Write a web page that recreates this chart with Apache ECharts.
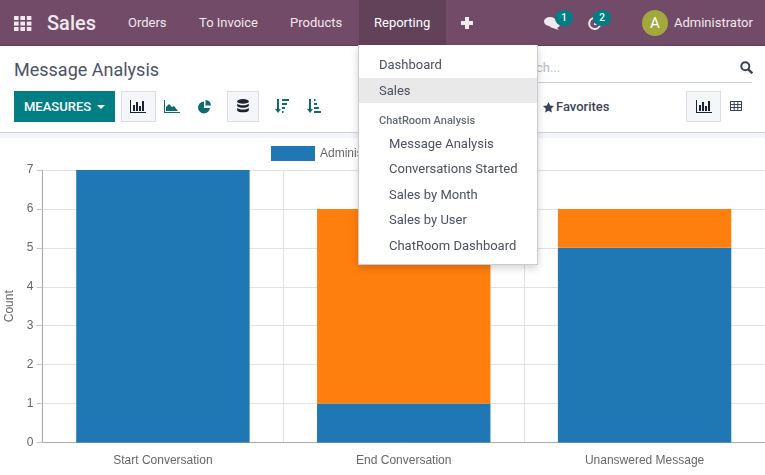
<!DOCTYPE html>
<html>
<head>
<meta charset="utf-8">
<script src="https://cdn.jsdelivr.net/npm/echarts@6/dist/echarts.min.js"></script>
<style>
  html, body { margin: 0; padding: 0; background: #fff; }
  body { width: 765px; height: 475px; overflow: hidden; position: relative; font-family: Roboto, sans-serif; color: #4c4c4c; }
  .abs { position: absolute; white-space: nowrap; }
  .navbar { position: absolute; left: 0; top: 0; width: 765px; height: 45px; background: #714b67; border-bottom: 1px solid #5d3f55; }
  .nav-text { color: #f1e9ee; font-size: 13px; top: 15px; line-height: 16px; }
  .active-tab { position: absolute; left: 359px; top: 0; width: 87px; height: 45px; background: #624259; }
  .badge { position: absolute; width: 18px; height: 16px; border-radius: 8px; background: #017e84; color: #fff; font-size: 10px; font-weight: 500; line-height: 16px; text-align: center; }
  .avatar { position: absolute; left: 642px; top: 10px; width: 26px; height: 26px; border-radius: 50%; background: #a2a83b; color: #fff; font-size: 15px; line-height: 26px; text-align: center; }
  .panel { position: absolute; left: 0; top: 46px; width: 765px; height: 86px; background: #fff; border-bottom: 1px solid #ced0dc; }
  .band { position: absolute; left: 0; top: 133px; width: 765px; height: 5px; background: #f4f5fa; }
  .measures { position: absolute; left: 14px; top: 91px; width: 101px; height: 31px; background: #017e84; color: #fff; font-size: 13px; font-weight: 500; line-height: 31px; text-indent: 10px; }
  .caret { position: absolute; left: 83px; top: 14px; width: 0; height: 0; border: 4px solid transparent; border-top-color: #fff; }
  .icon-btn { position: absolute; top: 91px; height: 29px; background: #f5f6fa; border: 1px solid #dcdee6; }
  svg { position: absolute; }
  #main { position: absolute; left: 0; top: 138px; width: 765px; height: 337px; }
  .menu { position: absolute; left: 358px; top: 45px; width: 180px; height: 220px; box-sizing: border-box; background: #fff; border: 1px solid #c9cbd6; border-top: 0; box-shadow: 0 3px 8px rgba(0,0,0,.18); }
  .menu div { position: absolute; white-space: nowrap; font-size: 13px; line-height: 16px; color: #4b4f60; }
  .menu .selected { left: 0; top: 33px; width: 178px; height: 25px; background: #e9e9e9; }
  .menu .head { font-size: 11px; font-weight: 500; color: #666a78; }
</style>
</head>
<body>
  <!-- 图表区域 -->
  <div id="main"></div>

  <div class="navbar"></div>
  <div class="active-tab"></div>
  <svg style="left:14px;top:16px" width="18" height="15" fill="#f1e9ee">
    <rect x="0" y="0" width="4.6" height="4"/><rect x="6.4" y="0" width="4.6" height="4"/><rect x="12.8" y="0" width="4.6" height="4"/>
    <rect x="0" y="5.6" width="4.6" height="4"/><rect x="6.4" y="5.6" width="4.6" height="4"/><rect x="12.8" y="5.6" width="4.6" height="4"/>
    <rect x="0" y="11" width="4.6" height="4"/><rect x="6.4" y="11" width="4.6" height="4"/><rect x="12.8" y="11" width="4.6" height="4"/>
  </svg>
  <div class="abs" style="left:47px;top:10px;font-size:20px;line-height:26px;font-weight:500;color:#f1e9ee">Sales</div>
  <div class="abs nav-text" style="left:128px">Orders</div>
  <div class="abs nav-text" style="left:199px">To Invoice</div>
  <div class="abs nav-text" style="left:290px">Products</div>
  <div class="abs nav-text" style="left:374px;color:#fff">Reporting</div>
  <svg style="left:461px;top:17px" width="12" height="12" fill="#f1e9ee"><rect x="4" y="0" width="4" height="12"/><rect x="0" y="4" width="12" height="4"/></svg>
  <svg style="left:544px;top:16px" width="16" height="14" fill="#f1e9ee">
    <ellipse cx="6" cy="5.5" rx="6" ry="4.6"/><ellipse cx="10.5" cy="8.5" rx="5.5" ry="3.8"/><path d="M12 11l3 3-5-1.5z"/>
  </svg>
  <div class="badge" style="left:555px;top:10px">1</div>
  <svg style="left:587px;top:16px" width="14" height="14" fill="none" stroke="#f1e9ee" stroke-width="2"><path d="M8 2a5.5 5.5 0 1 0 5 7"/><path d="M7 8h3"/></svg>
  <div class="badge" style="left:593px;top:10px">2</div>
  <div class="avatar">A</div>
  <div class="abs nav-text" style="left:674px">Administrator</div>

  <div class="panel"></div>
  <div class="band"></div>
  <div class="abs" style="left:14px;top:59px;font-size:18px;line-height:22px;color:#4c5266">Message Analysis</div>
  <div class="abs" style="left:510px;top:60px;font-size:13px;line-height:16px;color:#b8bac2">Search...</div>
  <div class="abs" style="left:537px;top:82px;width:215px;height:1px;background:#ced0dc"></div>
  <svg style="left:740px;top:61px" width="13" height="13" fill="none" stroke="#3d4356" stroke-width="2"><circle cx="5.3" cy="5.3" r="4"/><path d="M8.3 8.3l4 4" stroke-width="2.4"/></svg>

  <div class="measures">MEASURES<span class="caret"></span></div>
  <div class="icon-btn" style="left:121px;width:33px"></div>
  <svg style="left:130px;top:100px" width="16" height="13" fill="#1b2233"><rect x="0" y="0" width="1" height="13"/><rect x="0" y="12" width="16" height="1"/><rect x="3" y="5" width="2" height="6"/><rect x="6" y="2" width="2" height="9"/><rect x="9" y="6" width="2" height="5"/><rect x="12" y="1" width="2" height="10"/></svg>
  <svg style="left:164px;top:100px" width="16" height="13" fill="#0f6a72"><rect x="0" y="0" width="1" height="13"/><rect x="0" y="12" width="16" height="1"/><path d="M2 11V7l3-3 3 3 2-1 4 5z"/></svg>
  <svg style="left:198px;top:100px" width="14" height="14" fill="#0f6a72"><path d="M6 1.5a6 6 0 1 0 6 6.5H6z"/><path d="M7.5 0a6 6 0 0 1 5.5 5.5H7.5z"/></svg>
  <div class="icon-btn" style="left:227px;width:30px"></div>
  <svg style="left:237px;top:99px" width="12" height="14" fill="#1b2233"><ellipse cx="6" cy="2.4" rx="5.8" ry="2.4"/><path d="M.2 4.4c1 2.4 10.6 2.4 11.6 0v2.6c-1 2.4-10.6 2.4-11.6 0z"/><path d="M.2 8.8c1 2.4 10.6 2.4 11.6 0v2.6c-1 2.6-10.6 2.6-11.6 0z"/></svg>
  <svg style="left:275px;top:99px" width="14" height="14" fill="#0f6a72"><rect x="2" y="0" width="2" height="11"/><path d="M0 10h6l-3 4z"/><rect x="7" y="0" width="7" height="2"/><rect x="7" y="4" width="5" height="2"/><rect x="7" y="8" width="3" height="2"/><rect x="7" y="12" width="1.5" height="2"/></svg>
  <svg style="left:307px;top:99px" width="14" height="14" fill="#0f6a72"><rect x="2" y="0" width="2" height="11"/><path d="M0 10h6l-3 4z"/><rect x="7" y="0" width="1.5" height="2"/><rect x="7" y="4" width="3" height="2"/><rect x="7" y="8" width="5" height="2"/><rect x="7" y="12" width="7" height="2"/></svg>

  <svg style="left:543px;top:102px" width="11" height="11" fill="#3d4356"><path d="M5.5 0l1.7 3.6 3.8.5-2.8 2.6.7 3.9-3.4-1.9-3.4 1.9.7-3.9L0 4.1l3.8-.5z"/></svg>
  <div class="abs" style="left:556px;top:99px;font-size:13px;line-height:16px;font-weight:500;color:#3d4356">Favorites</div>
  <div class="icon-btn" style="left:686px;width:33px"></div>
  <svg style="left:696px;top:100px" width="16" height="13" fill="#1b2233"><rect x="0" y="0" width="1" height="13"/><rect x="0" y="12" width="16" height="1"/><rect x="3" y="5" width="2" height="6"/><rect x="6" y="2" width="2" height="9"/><rect x="9" y="6" width="2" height="5"/><rect x="12" y="1" width="2" height="10"/></svg>
  <svg style="left:730px;top:101px" width="13" height="11" fill="none" stroke="#3d4356" stroke-width="1"><rect x=".5" y=".5" width="11" height="9"/><path d="M.5 3.5h11M.5 6.5h11M4.2.5v9M7.8.5v9"/></svg>

  <div class="menu">
    <div class="selected"></div>
    <div style="left:20px;top:12px">Dashboard</div>
    <div style="left:20px;top:38px">Sales</div>
    <div class="head" style="left:20px;top:68px">ChatRoom Analysis</div>
    <div style="left:30px;top:91px">Message Analysis</div>
    <div style="left:30px;top:116px">Conversations Started</div>
    <div style="left:30px;top:142px">Sales by Month</div>
    <div style="left:30px;top:167px">Sales by User</div>
    <div style="left:30px;top:193px">ChatRoom Dashboard</div>
  </div>

<script type="text/javascript">
var categories = ['Start Conversation', 'End Conversation', 'Unanswered Message'];
var adminValues = [7, 1, 5];
var otherValues = [0, 5, 1];
var yTicks = [0, 7, 1];

var dom = document.getElementById('main');
var myChart = echarts.init(dom, null, {renderer: 'canvas'});
var fontName = '"Liberation Sans", Arial, sans-serif';

var option = {
    animation: false,
    textStyle: {fontFamily: fontName},
    legend: {
        left: 271,
        top: 8,
        padding: 0,
        itemWidth: 44,
        itemHeight: 15,
        itemGap: 6,
        icon: 'rect',
        textStyle: {color: '#666', fontSize: 12, fontFamily: fontName},
        data: ['Administrator', 'Undefined']
    },
    grid: {left: 42.5, right: 0, top: 32, bottom: 32.5, outerBoundsMode: 'none'},
    xAxis: {
        type: 'category',
        data: categories,
        axisLine: {lineStyle: {color: '#a8a8a8'}},
        axisTick: {length: 10, lineStyle: {color: '#dcdcdc'}},
        axisLabel: {color: '#666', fontSize: 12, margin: 12, fontFamily: fontName},
        splitLine: {show: true, lineStyle: {color: '#e2e2e2'}}
    },
    yAxis: {
        type: 'value',
        name: 'Count',
        nameLocation: 'middle',
        nameGap: 27,
        nameTextStyle: {color: '#666', fontSize: 12, fontFamily: fontName},
        min: yTicks[0],
        max: yTicks[1],
        interval: yTicks[2],
        axisLine: {show: true, lineStyle: {color: '#a8a8a8'}},
        axisTick: {show: true, length: 6, lineStyle: {color: '#c8c8c8'}},
        axisLabel: {color: '#666', fontSize: 12, margin: 9, fontFamily: fontName},
        splitLine: {show: true, lineStyle: {color: '#e2e2e2'}}
    },
    series: [
        {
            name: 'Administrator',
            type: 'bar',
            stack: 'count',
            barWidth: '72%',
            itemStyle: {color: '#1f77b4'},
            data: adminValues
        },
        {
            name: 'Undefined',
            type: 'bar',
            stack: 'count',
            barWidth: '72%',
            itemStyle: {color: '#ff7f0e'},
            data: otherValues
        }
    ]
};
myChart.setOption(option, true);
</script>
</body>
</html>
